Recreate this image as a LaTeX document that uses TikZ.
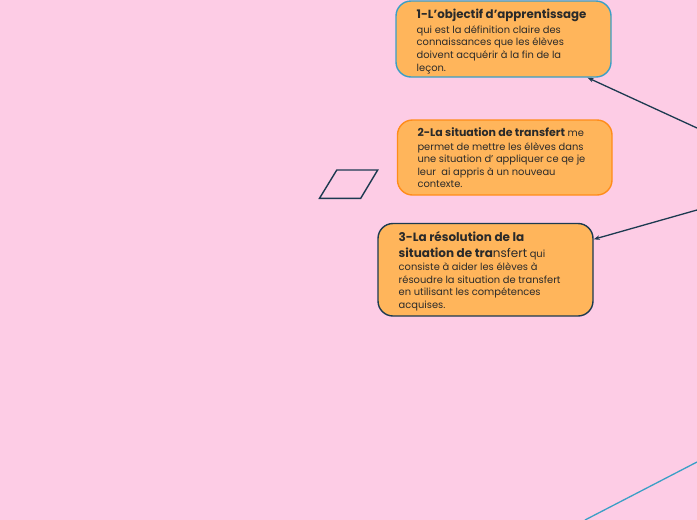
\documentclass[tikz,border=0pt]{standalone}
\usepackage{fontspec}
\setmainfont{Poppins}
\usetikzlibrary{arrows.meta}
\definecolor{bg}{HTML}{FDCCE5}
\definecolor{boxfill}{HTML}{FFB55B}
\definecolor{blueb}{HTML}{3A9FC6}
\definecolor{orangeb}{HTML}{FF8C1A}
\definecolor{navy}{HTML}{1C3A50}
\definecolor{txt}{HTML}{2A2A2A}
\tikzset{
  box/.style={rounded corners=15, minimum width=215, minimum height=76, fill=boxfill, line width=1.4, inner sep=0},
  ttl/.style={anchor=base west, inner sep=0, text=txt, font=\fontsize{11.8}{11.8}\selectfont\bfseries},
  bdy/.style={anchor=base west, inner sep=0, text=txt, font=\fontsize{9.9}{9.9}\selectfont},
  conn/.style={draw=navy, line width=1.3, -{Stealth[length=6pt,width=4.5pt]}}
}
\begin{document}
\begin{tikzpicture}[x=1pt,y=-1pt]
\useasboundingbox (0,0) rectangle (697,520);
\fill[bg] (0,0) rectangle (697,520);
% boxes
\node[box, draw=blueb] (b1) at (503.5,39) {};
\node[box, draw=orangeb, minimum width=214.5, minimum height=75] (b2) at (504.75,157.5) {};
\node[box, draw=navy, minimum height=92.5] (b3) at (485.5,269.75) {};
% box 1 text
\node[ttl] (t1a) at (416.5,18) {1-L’objectif d’apprentissage};
\node[bdy] (t1b) at (416.5,33) {qui est la définition claire des};
\node[bdy] (t1c) at (416.5,45.7) {connaissances que les élèves};
\node[bdy] (t1d) at (416.5,58.3) {doivent acquérir à la fin de la};
\node[bdy] (t1e) at (416.5,71) {leçon.};
% box 2 text
\node[bdy] (t2a) at (417.3,136) {{\fontsize{11}{11}\selectfont\bfseries 2-La situation de transfert} me};
\node[bdy] (t2b) at (417.3,150) {permet de mettre les élèves dans};
\node[bdy] (t2c) at (417.3,162.5) {une situation d’ appliquer ce qe je};
\node[bdy] (t2d) at (417.3,175) {leur\ \ ai appris à un nouveau};
\node[bdy] (t2e) at (417.3,187.5) {contexte.};
% box 3 text
\node[ttl, font=\fontsize{12}{12}\selectfont\bfseries] (t3a) at (398.5,241) {3-La résolution de la};
\node[bdy] (t3b) at (398.5,257) {{\fontsize{12}{12}\selectfont\bfseries situation de tra}{\fontsize{12}{12}\selectfont nsfert} qui};
\node[bdy] (t3c) at (398.5,270.3) {consiste à aider les élèves à};
\node[bdy] (t3d) at (398.5,283) {résoudre la situation de transfert};
\node[bdy] (t3e) at (398.5,295.5) {en utilisant les compétences};
\node[bdy] (t3f) at (398.5,308) {acquises.};
% connectors
\coordinate (s1) at (697,128);
\coordinate (s2) at (697,210);
\coordinate (s3) at (697,462);
\coordinate (e3) at (585,520);
\draw[conn] (s1) -- (b1);
\draw[conn] (s2) -- (b3);
\draw[draw=blueb, line width=1.3] (s3) -- (e3);
% parallelogram
\draw[navy, line width=1.4, line join=miter] (319.5,198.3) -- (336.8,170) -- (377.7,170) -- (360.7,198.3) -- cycle;
\end{tikzpicture}
\end{document}
